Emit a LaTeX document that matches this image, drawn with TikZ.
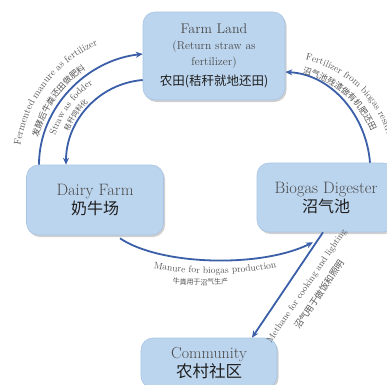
\documentclass[tikz,border=0pt]{standalone}
\usepackage{fontspec}
\newfontfamily\cjk{Noto Sans CJK SC}
\usetikzlibrary{arrows.meta,decorations.text,shadows,calc}
\definecolor{boxfill}{HTML}{BCD5EE}
\definecolor{boxline}{HTML}{A8C4E4}
\definecolor{arrowblue}{HTML}{3A5FA8}
\definecolor{etext}{HTML}{4A4A4A}
\definecolor{ctext}{HTML}{1E1E1E}
\definecolor{ltext}{HTML}{555555}
\begin{document}
\begin{tikzpicture}[x=1pt,y=1pt,
  box/.style={rounded corners=12pt, fill=boxfill, draw=boxline, line width=0.6pt,
    drop shadow={shadow xshift=1.5pt, shadow yshift=-2pt, opacity=0.3, fill=black!60},
    align=center, inner sep=0pt, text=etext},
  arr/.style={draw=arrowblue, line width=1.8pt, -{Stealth[length=7pt,width=6pt]}},
  curvetext/.style={decorate, decoration={text along path, text align=center, text={#1}}},
  curvetextl/.style={decorate, decoration={text along path, text align=left, text={#1}}},
  lbl/.style={text=ltext, inner sep=0pt, font=\fontsize{9}{11}\selectfont},
  clbl/.style={text=ltext, inner sep=0pt, font=\cjk\fontsize{8.5}{10}\selectfont}
]
\useasboundingbox (0,0) rectangle (387,-384);
\fill[white] (0,0) rectangle (387,-384);
\clip (0,0) rectangle (387,-384);

% boxes
\node[box, minimum width=142pt, minimum height=88pt, font=\fontsize{11.5}{16}\selectfont] (farm) at (214,-56)
  {{\fontsize{14}{18}\selectfont Farm Land}\\ (Return straw as\\ fertilizer)\\[4pt]
   {\cjk\fontsize{12.5}{16}\selectfont\color{ctext}农田(秸秆就地还田)}};
\node[box, minimum width=137pt, minimum height=70pt, font=\fontsize{16.5}{19}\selectfont] (dairy) at (95,-200)
  {Dairy Farm\\ {\cjk\fontsize{16}{19}\selectfont\color{ctext}奶牛场}};
\node[box, minimum width=138pt, minimum height=69pt, font=\fontsize{16.5}{19}\selectfont] (bio) at (326,-197.5)
  {Biogas Digester\\ {\cjk\fontsize{16}{19}\selectfont\color{ctext}沼气池}};
\node[box, minimum width=136pt, minimum height=50pt, font=\fontsize{16}{17}\selectfont] (comm) at (209,-363)
  {Community\\ {\cjk\fontsize{16.5}{17}\selectfont\color{ctext}农村社区}};

% connectors
\draw[arr] ([xshift=-56pt]dairy.north) .. controls +(0,57) and +(-56,-6) .. ([yshift=2pt]farm.west);
\draw[arr] ([yshift=-24pt]farm.west) .. controls +(-44,-3.6) and +(0,44) .. ([xshift=-29pt]dairy.north);
\draw[arr] ([xshift=44pt]bio.north) .. controls +(-3.6,46.6) and +(46.6,-2.4) .. ([yshift=-16pt]farm.east);
\draw[arr] ([xshift=25pt,yshift=-3pt]dairy.south) .. controls +(40,-27) and +(-53,-26) .. ([xshift=-13pt,yshift=-10pt]bio.south);
\draw[arr] ([xshift=-3pt]bio.south) -- ([xshift=43pt]comm.north);

% labels along the arcs
\path[curvetext={|\fontsize{9.8}{12}\selectfont\color{ltext}|Fermented manure as fertilizer}]
  (150,-165) ++(185:131) arc[start angle=185, end angle=100, radius=131];
\path[curvetext={|\cjk\fontsize{8.5}{10}\selectfont\color{ltext}|发酵后牛粪还田做肥料}]
  (150,-165) ++(185:115) arc[start angle=185, end angle=105, radius=115];
\path[curvetext={|\fontsize{9.5}{11}\selectfont\color{ltext}|Straw as fodder}]
  (150,-165) ++(180:99) arc[start angle=180, end angle=108, radius=99];
\path[curvetext={|\cjk\fontsize{7}{9}\selectfont\color{ltext}|秸秆饲料化}]
  (150,-165) ++(180:88) arc[start angle=180, end angle=112, radius=88];
\path[curvetextl={|\fontsize{9.5}{11}\selectfont\color{ltext}|Fertilizer from biogas residue}]
  (280,-170) ++(77:113) arc[start angle=77, end angle=-30, radius=113];
\path[curvetextl={|\cjk\fontsize{8.5}{10}\selectfont\color{ltext}|沼气池残渣做有机肥还田}]
  (280,-170) ++(77:99) arc[start angle=77, end angle=-20, radius=99];
\path[curvetext={|\fontsize{9.5}{11}\selectfont\color{ltext}|Manure for biogas production}]
  (145,-266) .. controls (180,-276) and (245,-276) .. (285,-265);
\path[curvetext={|\cjk\fontsize{7}{9}\selectfont\color{ltext}|牛粪用于沼气生产}]
  (160,-282) .. controls (185,-286) and (215,-286) .. (241,-282);

\node[lbl, rotate=56] (mlab) at (307,-286) {Methane for cooking and lighting};
\node[clbl, rotate=56, font=\cjk\fontsize{9}{10}\selectfont] (mclab) at (319,-294.5) {沼气用于做饭和照明};
\end{tikzpicture}
\end{document}
